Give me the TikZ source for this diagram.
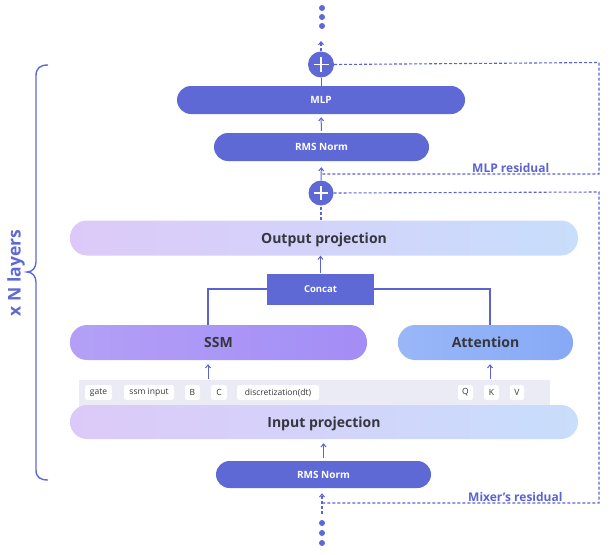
\documentclass[tikz,border=0pt]{standalone}
\usepackage{fontspec}
\setmainfont{Open Sans}
\usetikzlibrary{arrows.meta}
\definecolor{dblue}{HTML}{5E69D6}
\definecolor{lblue}{HTML}{5B63D3}
\definecolor{projL}{HTML}{DDC9F9}
\definecolor{projR}{HTML}{C8DEFB}
\definecolor{ssmL}{HTML}{B3A0F6}
\definecolor{ssmR}{HTML}{A38DF6}
\definecolor{attL}{HTML}{99B7F8}
\definecolor{attR}{HTML}{87A9F6}
\definecolor{bandc}{HTML}{EBEBF5}
\definecolor{txtc}{HTML}{36363E}
\tikzset{
  darkbox/.style={draw=none,fill=dblue,text=white,font=\fontsize{10}{12}\selectfont\bfseries,inner sep=0pt,text depth=0pt},
  pill/.style={rounded corners=#1},
  gradbox/.style={draw=none,text=txtc,font=\fontsize{14}{16}\selectfont\bfseries,inner sep=0pt,text depth=0pt},
  tag/.style={fill=white,rounded corners=2.5pt,draw=none,text=txtc,font=\fontsize{8.5}{10}\selectfont,inner sep=0pt,minimum height=15pt},
  plusc/.style={circle,fill=dblue,minimum size=25pt,inner sep=0pt},
  dashln/.style={draw=lblue,line width=1.1pt,dash pattern=on 3pt off 2pt},
  solidln/.style={draw=lblue,line width=1.1pt},
  arr/.style={draw=lblue,line width=1pt},
  tip/.style={-{Straight Barb[length=3pt,width=5pt]}},
  reslabel/.style={text=lblue,font=\fontsize{12}{14}\selectfont\bfseries,inner sep=0pt},
  dotc/.style={circle,fill=dblue,minimum size=6pt,inner sep=0pt}
}
\begin{document}
\begin{tikzpicture}[x=1pt,y=-1pt]
\useasboundingbox (0,0) rectangle (610,554);
% dots top
\node[dotc] (dt1) at (322,8) {};
\node[dotc] (dt2) at (322,17) {};
\node[dotc] (dt3) at (322,26) {};
% plus top
\node[plusc,minimum size=26pt] (plusT) at (321,64.5) {};
\draw[white,line width=1.8pt] ([xshift=-7.5pt]plusT.center) -- ([xshift=7.5pt]plusT.center);
\draw[white,line width=1.8pt] ([yshift=-7.5pt]plusT.center) -- ([yshift=7.5pt]plusT.center);
% MLP
\node[darkbox,pill=14pt,minimum width=288pt,minimum height=28pt] (mlp) at (321,100) {MLP};
\node[darkbox,pill=14pt,minimum width=215pt,minimum height=28pt] (rmsT) at (321.5,147) {RMS Norm};
% plus bottom
\node[plusc] (plusB) at (321,193) {};
\draw[white,line width=1.8pt] ([xshift=-7pt]plusB.center) -- ([xshift=7pt]plusB.center);
\draw[white,line width=1.8pt] ([yshift=-7pt]plusB.center) -- ([yshift=7pt]plusB.center);
% output projection
\node[gradbox,pill=17pt,minimum width=508pt,minimum height=35pt,left color=projL,right color=projR] (outp) at (324,238) {Output projection};
% concat
\node[darkbox,rectangle,minimum width=107pt,minimum height=31pt,font=\fontsize{9.5}{11}\selectfont\bfseries] (concat) at (320.5,289) {Concat};
% SSM and attention
\node[gradbox,pill=17pt,minimum width=297pt,minimum height=35pt,left color=ssmL,right color=ssmR] (ssm) at (218.5,342.5) {SSM};
\node[gradbox,pill=17pt,minimum width=175pt,minimum height=35pt,left color=attL,right color=attR] (att) at (485.5,342.5) {Attention};
% band
\fill[bandc] (79,380) rectangle (550,412);
\coordinate (bandS) at (208,380);
\coordinate (bandA) at (490,380);
\node[tag,minimum width=27pt] (tgate) at (98.5,392.5) {gate};
\node[tag,minimum width=50pt] (tssm) at (149,392.5) {ssm input};
\node[tag,minimum width=15pt] (tB) at (192.5,392.5) {B};
\node[tag,minimum width=16pt] (tC) at (219,392.5) {C};
\node[tag,minimum width=82pt] (tdt) at (278,392.5) {discretization(dt)};
\node[tag,minimum width=15pt] (tQ) at (465.5,392.5) {Q};
\node[tag,minimum width=15pt] (tK) at (491.5,392.5) {K};
\node[tag,minimum width=14pt] (tV) at (517,392.5) {V};
% input projection
\node[gradbox,pill=17pt,minimum width=508pt,minimum height=34pt,left color=projL,right color=projR] (inp) at (324,422) {Input projection};
\node[darkbox,pill=13.5pt,minimum width=215pt,minimum height=27pt] (rmsB) at (323.5,474.5) {RMS Norm};
% dots bottom
\node[dotc] (db1) at (322,523) {};
\node[dotc] (db2) at (322,533) {};
\node[dotc] (db3) at (322,543) {};
% coordinates
\coordinate (topout) at (321,41);
\coordinate (jMLP) at (322,174);
\coordinate (jMix) at (322,503);
\coordinate (botin) at (322,514);
\coordinate (rT) at (599,62.5);
\coordinate (rTb) at (599,174);
\coordinate (rB) at (599,192);
\coordinate (rBb) at (599,503);
% vertical connectors
\draw[dashln,tip] (plusT.north) -- (topout);
\draw[arr] (mlp.north) -- (plusT.south);
\draw[arr,tip,shorten <=2pt,shorten >=3pt] (rmsT.north) -- (mlp.south);
\draw[arr,tip,shorten >=6pt] (plusB.north) -- (rmsT.south);
\draw[dashln] (outp.north -| plusB.south) -- (plusB.south);
\draw[arr,tip] (concat.north) -- (outp.south -| concat.north);
\draw[solidln] (ssm.north -| bandS) |- (concat.west);
\draw[solidln] (att.north -| bandA) |- (concat.east);
\draw[arr,tip,shorten <=1pt,shorten >=4pt] (bandS) -- (ssm.south -| bandS);
\draw[arr,tip,shorten <=1pt,shorten >=4pt] (bandA) -- (att.south -| bandA);
\draw[arr,tip,shorten <=3pt,shorten >=4pt] (rmsB.north) -- (inp.south -| rmsB.north);
\draw[dashln,tip,shorten >=5pt] (botin) -- (rmsB.south -| botin);
% residuals
\draw[dashln] (plusT.east) -- (rT) -- (rTb) -- (jMLP);
\draw[dashln] (plusB.east) -- (rB) -- (rBb) -- (jMix);
\node[reslabel,anchor=base west] (lblM) at (472,172) {MLP residual};
\node[reslabel,anchor=base west] (lblX) at (468,501) {Mixer’s residual};
% brace
\draw[draw=dblue,line width=1.4pt] (48,65) .. controls (40,65) and (36,68) .. (36,76) -- (36,262) .. controls (36,268) and (32,272) .. (27,272) .. controls (32,272) and (36,276) .. (36,282) -- (36,470) .. controls (36,477) and (40,480) .. (48,480);
\node[rotate=90,text=dblue,font=\fontsize{17.5}{20}\selectfont\bfseries,inner sep=0pt] (layers) at (16,273) {x N layers};
\end{tikzpicture}
\end{document}
